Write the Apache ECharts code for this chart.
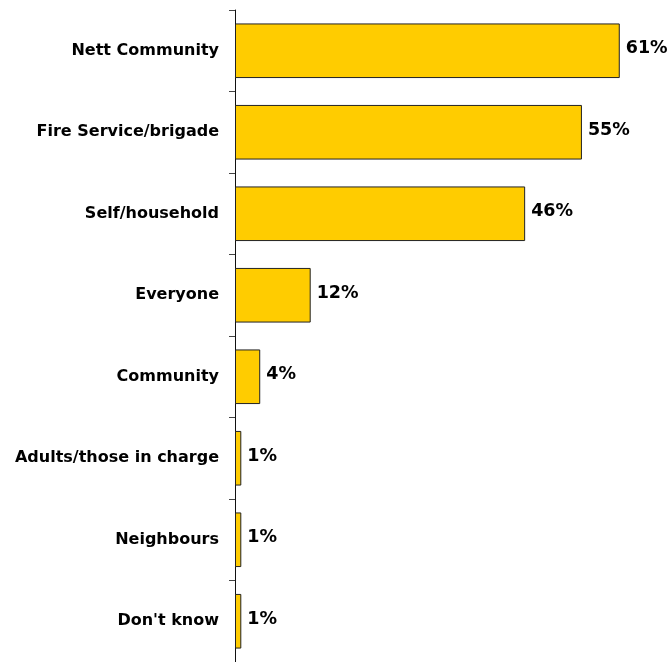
<!DOCTYPE html>
<html>
<head>
<meta charset="utf-8">
<script src="https://cdn.jsdelivr.net/npm/echarts@6/dist/echarts.min.js"></script>
<style>
  html, body { margin: 0; padding: 0; background: #ffffff; }
  #chart { width: 671px; height: 662px; }
</style>
</head>
<body>
<div id="chart"></div>
<script>
// Who is responsible: share of respondents per answer (%)
const categories = [
  'Nett Community',
  'Fire Service/brigade',
  'Self/household',
  'Everyone',
  'Community',
  'Adults/those in charge',
  'Neighbours',
  "Don't know"
];
const values = [61, 55, 46, 12, 4, 1, 1, 1];

const chart = echarts.init(document.getElementById('chart'), null, { renderer: 'canvas' });

chart.setOption({
  animation: false,
  backgroundColor: '#ffffff',
  grid: { left: 235, right: 26, top: 10, bottom: -5, containLabel: false },
  xAxis: {
    type: 'value',
    min: 0,
    max: 65,
    show: false
  },
  yAxis: {
    type: 'category',
    data: categories,
    inverse: true,
    axisLine: { show: true, lineStyle: { color: '#111111', width: 1 } },
    axisTick: { show: true, inside: false, length: 6, lineStyle: { color: '#444444' } },
    axisLabel: {
      color: '#000000',
      fontFamily: 'DejaVu Sans',
      fontWeight: 'bold',
      fontSize: 16,
      margin: 16
    },
    splitLine: { show: false }
  },
  series: [{
    type: 'bar',
    data: values,
    barCategoryGap: '33%',
    itemStyle: { color: '#FFCC00', borderColor: '#222222', borderWidth: 1 },
    label: {
      show: true,
      position: 'right',
      distance: 6,
      offset: [0, -2],
      formatter: p => p.value + '%',
      color: '#000000',
      fontFamily: 'DejaVu Sans',
      fontWeight: 'bold',
      fontSize: 17.5
    }
  }]
});
</script>
</body>
</html>
